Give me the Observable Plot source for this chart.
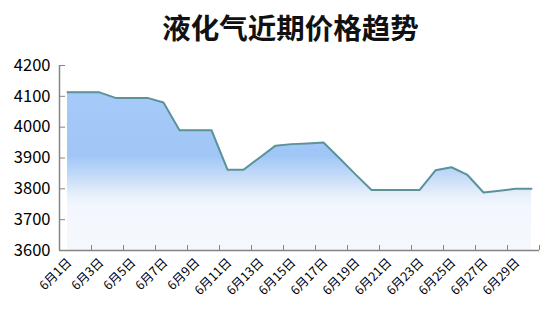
<!DOCTYPE html>
<html>
<head>
<meta charset="utf-8">
<script src="https://cdn.jsdelivr.net/npm/d3@7"></script>
<script src="https://cdn.jsdelivr.net/npm/@observablehq/plot@0.6"></script>
<style>
  html, body { margin: 0; padding: 0; background: #fff; }
  #wrap { width: 555px; height: 316px; overflow: hidden; }
  #title {
    box-sizing: border-box; width: 555px; height: 46px; padding-left: 26px;
    text-align: center; line-height: 54px;
    font-family: "Noto Sans CJK SC", sans-serif; font-weight: 700; font-size: 28.5px; color: #111;
  }
</style>
</head>
<body>
<div id="wrap">
  <div id="title">液化气近期价格趋势</div>
  <div id="chart"></div>
</div>
<script>
// Daily LPG price for June
const days = ["6月1日","6月2日","6月3日","6月4日","6月5日","6月6日","6月7日","6月8日","6月9日","6月10日",
              "6月11日","6月12日","6月13日","6月14日","6月15日","6月16日","6月17日","6月18日","6月19日","6月20日",
              "6月21日","6月22日","6月23日","6月24日","6月25日","6月26日","6月27日","6月28日","6月29日","6月30日"];
const prices = [4113, 4113, 4113, 4095, 4095, 4095, 4080, 3990, 3990, 3990,
                3862, 3862, 3901, 3940, 3945, 3947, 3950, 3899, 3847, 3796,
                3796, 3796, 3796, 3860, 3870, 3845, 3788, 3794, 3800, 3800];
const yTicks = [3600, 3700, 3800, 3900, 4000, 4100, 4200];
// every other day is labelled; tick marks sit on the band edges in between
const labelDays = days.filter((d, i) => i % 2 === 0);
const edgeDays = days.filter((d, i) => i % 2 === 1);

const data = days.map((d, i) => ({day: d, price: prices[i]}));

const W = 555, H = 270;
const mL = 59, mR = 16, mT = 19, mB = 66;
const plotW = W - mL - mR, plotH = H - mT - mB;
const step = plotW / days.length;
const axisColor = "#858585";

const chart = Plot.plot({
  width: W,
  height: H,
  marginLeft: mL,
  marginRight: mR,
  marginTop: mT,
  marginBottom: mB,
  style: {fontFamily: "'Noto Sans CJK SC', sans-serif", background: "transparent", overflow: "visible"},
  x: {type: "point", domain: days, padding: 0.5},
  y: {domain: [3600, 4200]},
  marks: [
    Plot.areaY(data, {x: "day", y1: 3600, y2: "price", fill: "url(#priceFill)"}),
    Plot.lineY(data, {x: "day", y: "price", stroke: "#5b9399", strokeWidth: 2}),
    // axis lines
    Plot.ruleY([3600], {stroke: axisColor, strokeWidth: 1.5}),
    Plot.ruleX([days[0]], {dx: -step / 2, stroke: axisColor, strokeWidth: 1.5}),
    // inward tick marks
    Plot.ruleX(edgeDays, {dx: step / 2, insetTop: plotH - 5, stroke: axisColor}),
    Plot.ruleY(yTicks, {insetRight: plotW - 6, stroke: axisColor}),
    Plot.axisX({ticks: labelDays, tickSize: 0, tickRotate: -45, tickPadding: 10, dx: 2,
                fontSize: 12.5, fill: "#000", label: null}),
    Plot.axisY({ticks: yTicks, tickSize: 0, tickPadding: 9, fontSize: 16.5,
                fill: "#000", label: null, tickFormat: d => String(d)})
  ]
});

// vertical gradient for the area fill
const defs = d3.select(chart).insert("defs", ":first-child");
const grad = defs.append("linearGradient")
  .attr("id", "priceFill")
  .attr("gradientUnits", "userSpaceOnUse")
  .attr("x1", 0).attr("x2", 0)
  .attr("y1", mT).attr("y2", H - mB);
[[0, "#a9ccf9"], [0.49, "#a0c6f7"], [0.6, "#c4dbf8"], [0.7, "#e6effb"], [0.76, "#f3f7fd"], [1, "#f5f9fd"]]
  .forEach(([o, c]) => grad.append("stop").attr("offset", o).attr("stop-color", c));

document.getElementById("chart").appendChild(chart);
</script>
</body>
</html>
